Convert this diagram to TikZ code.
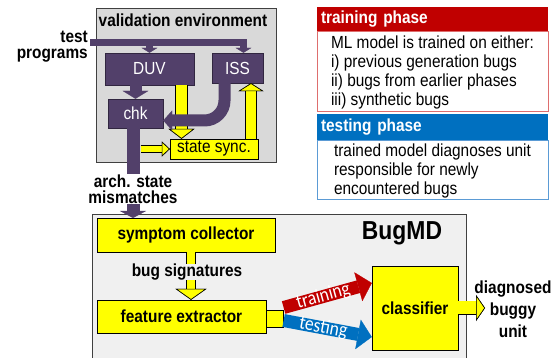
\documentclass[tikz,border=0pt]{standalone}
\usepackage{fontspec}
\setmainfont{Liberation Sans}[FakeStretch=0.88]
\newfontfamily\calfont{Carlito}[FakeStretch=0.88]
\usetikzlibrary{arrows.meta,positioning,calc}
\definecolor{vpurple}{RGB}{82,64,106}
\definecolor{vgray}{RGB}{217,217,217}
\definecolor{bgray}{RGB}{240,240,240}
\definecolor{vyellow}{RGB}{255,255,0}
\definecolor{trainred}{RGB}{192,0,0}
\definecolor{testblue}{RGB}{0,112,192}
\definecolor{trainedge}{RGB}{222,110,110}
\definecolor{testedge}{RGB}{91,155,213}
\newcommand{\fsz}[2]{\fontsize{#1}{#2}\selectfont}

\begin{document}
\begin{tikzpicture}[x=1pt, y=-1pt,
    pbox/.style={draw=vpurple!60!black, fill=vpurple, text=white, font=\fsz{17.5}{19}, inner sep=0pt},
    ybox/.style={draw=black, fill=vyellow, font=\bfseries\fsz{17.5}{19}, inner sep=0pt},
    lbl/.style={font=\bfseries\fsz{17.5}{16}, inner sep=0pt, align=center},
    hdr/.style={text=white, font=\bfseries\fsz{17.5}{19}, minimum width=231pt, text width=223pt, inner xsep=4pt, inner ysep=0pt, align=left},
    body/.style={fill=white, line width=1pt, font=\fsz{17.5}{19}, minimum width=231pt, inner sep=0pt, align=left},
    pbar/.style n args={3}{draw=vpurple, line width=#1, -{Triangle[width=#2, length=#3, line width'=0.3pt]}},
    ybar/.style n args={3}{draw=vyellow, line width=#1,
        -{Triangle[width=#2, length=#3, line width'=0.6pt, fill=vyellow, color=black]},
        preaction={draw=black, line width=#1+1.2pt, -{Triangle[width=#2, length=#3, line width'=0.6pt, fill=vyellow, color=black]}}},
    tarrow/.style={draw=#1, line width=13pt, -{Triangle[width=30pt, length=14pt, line width'=0.3pt]}},
    tlbl/.style={text=white, font=\calfont\fsz{20}{20}, inner sep=0pt, sloped}
]
\useasboundingbox (0,0) rectangle (558,358);

% === validation environment ===
\node[draw=black!75, fill=vgray, line width=1pt, minimum width=180pt, minimum height=154pt, inner sep=0pt] (venv) at (186,86) {};
\node[lbl] (venvtitle) at (183,20) {validation environment};

\node[pbox, minimum width=89pt, minimum height=32pt] (duv) at (149.5,69) {DUV};
\node[pbox, minimum width=51pt, minimum height=30pt] (iss) at (237.5,68) {ISS};
\node[pbox, minimum width=55pt, minimum height=29pt] (chk) at (135.5,113.5) {chk};
\node[ybox, font=\fsz{17.5}{19}, minimum width=88pt, minimum height=20pt] (sync) at (214,149) {state sync.};

\node[lbl, align=right, anchor=east] (tp) at (88,47) {test\\programs};
\coordinate (tpin) at (90,42.5);
\draw[pbar={7pt}{16pt}{5pt}] (tpin) -| ([xshift=6pt]iss.north);
\draw[pbar={7pt}{16pt}{5pt}] (tpin -| duv.north) -- (duv.north);

\draw[pbar={12pt}{26pt}{8pt}] (duv.south -| chk.north) -- (chk.north);
\draw[ybar={11pt}{26pt}{10pt}] ([xshift=32pt]duv.south) -- ([xshift=32pt]duv.south |- sync.north);
\draw[pbar={12pt}{20pt}{9pt}, rounded corners=20pt] ([xshift=-13pt]iss.south) |- ([yshift=-7pt]chk.east);
\draw[ybar={10pt}{25pt}{8pt}] ([xshift=37pt]sync.north) -- ([xshift=37pt]sync.north |- iss.south);

% arch. state mismatches
\node[lbl] (arch) at (133,189) {arch. state\\mismatches};
\draw[vpurple, line width=13pt] ([xshift=-2pt]chk.south) -- ([xshift=-2pt]chk.south |- arch.north);
\draw[ybar={6pt}{15pt}{8pt}] ([xshift=5pt]chk.south |- sync.west) -- (sync.west);

% === phases ===
\node[hdr, fill=trainred, minimum height=25pt] (trainhd) at (432.5,19.5) {training phase};
\node[body, draw=trainedge, minimum height=80pt] (trainbody) at (432.5,72) {ML model is trained on either:\\i) previous generation bugs\\ii) bugs from earlier phases\\iii) synthetic bugs};
\node[hdr, fill=testblue, minimum height=27pt] (testhd) at (432.5,127.5) {testing phase};
\node[body, draw=testedge, minimum height=59pt] (testbody) at (432.5,170.5) {trained model diagnoses unit\\responsible for newly\\encountered bugs};

% === BugMD ===
\node[draw=black!75, fill=bgray, line width=1pt, minimum width=374pt, minimum height=150pt, inner sep=0pt, anchor=north west] (bugmd) at (92,214) {};
\node[font=\bfseries\fsz{26}{26}, inner sep=0pt] (bugtitle) at (402,233) {BugMD};
\draw[pbar={13pt}{26pt}{7pt}] (arch.south) -- (arch.south |- 0,218);

\node[ybox, minimum width=178pt, minimum height=34pt] (sc) at (186,235) {symptom collector};
\node[ybox, minimum width=169pt, minimum height=33pt] (fe) at (181.5,316.5) {feature extractor};
\draw[ybar={8pt}{31pt}{11pt}] ([xshift=5pt]sc.south) -- ([xshift=5pt]sc.south |- fe.north);
\node[lbl, fill=bgray] (bugsig) at (187,272) {bug signatures};

\node[ybox, minimum width=17pt, minimum height=17pt, anchor=west] (fork) at ([yshift=-2pt]fe.east) {};
\node[ybox, minimum width=86pt, minimum height=84pt] (cls) at (415,308) {classifier};
\draw[tarrow=trainred] ([yshift=11pt]fork.east) -- ([yshift=25pt]cls.west) node[tlbl, pos=0.45] {training};
\draw[tarrow=testblue] ([yshift=-2pt]fork.east) -- ([yshift=-29pt]cls.west) node[tlbl, pos=0.45] {testing};

\coordinate (out) at (485,308);
\draw[ybar={13pt}{26pt}{9pt}] (cls.east) -- (out);
\node[lbl, font=\bfseries\fsz{17.5}{22}] (diag) at (513,309) {diagnosed\\buggy\\unit};

\end{tikzpicture}
\end{document}
